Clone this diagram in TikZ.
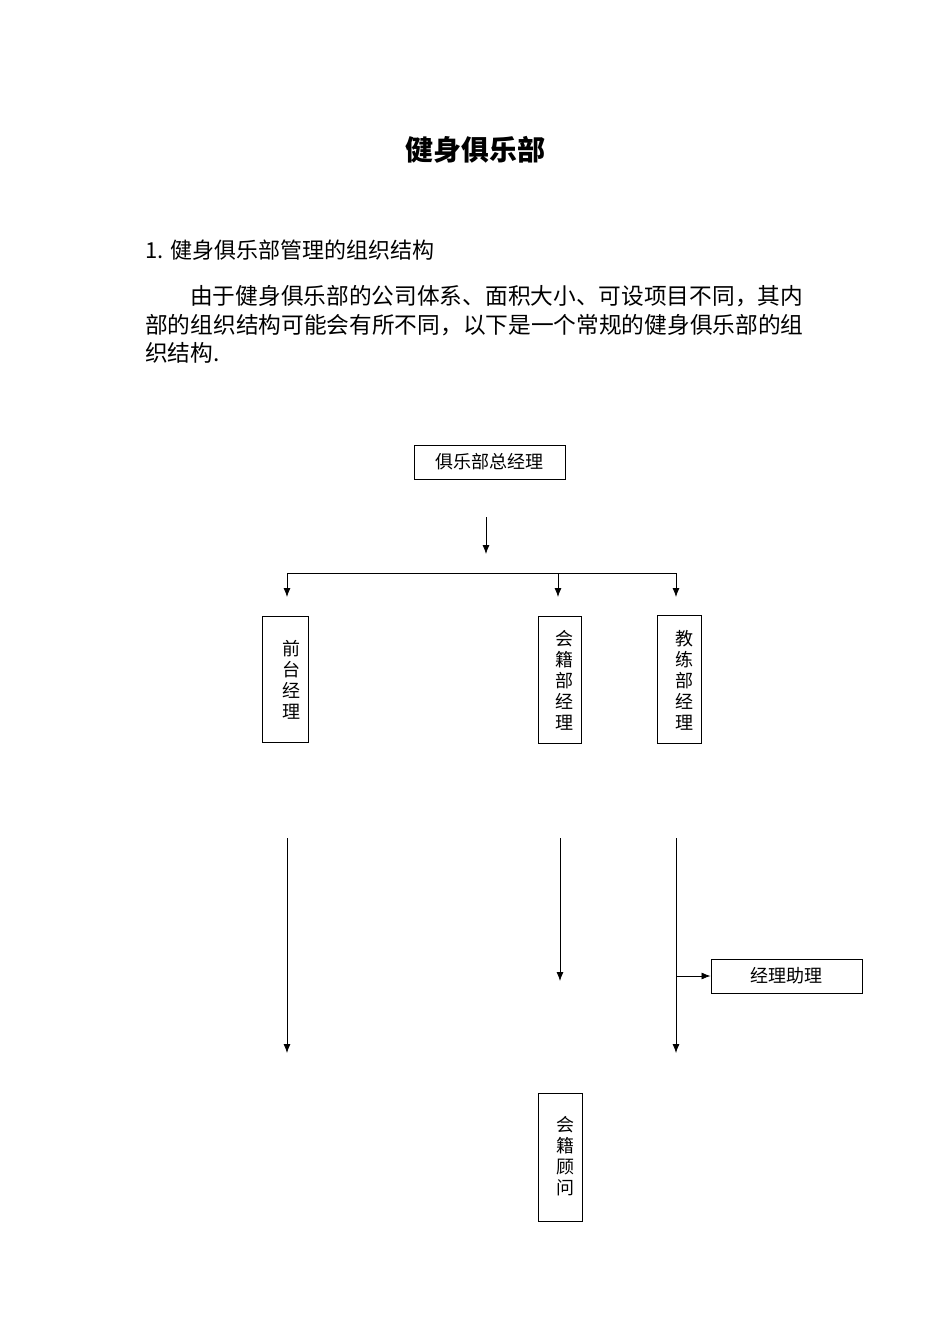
\documentclass[tikz,border=0pt]{standalone}
\usepackage{fontspec}
\setmainfont{Liberation Serif}
\newfontfamily\cjk{Noto Sans CJK SC}
\usetikzlibrary{arrows.meta}
\begin{document}
\begin{tikzpicture}[x=1pt,y=-1pt,
  box/.style={draw,line width=0.9pt,inner sep=0pt},
  lbl/.style={font=\cjk\fontsize{18}{21}\selectfont,align=center,inner sep=0pt},
  body/.style={anchor=west,font=\cjk\fontsize{22.7}{26}\selectfont,inner sep=0pt},
  ar/.style={line width=0.8pt,-{Latex[length=9pt,width=7pt]}},
  ln/.style={line width=0.8pt}]
\useasboundingbox (0,0) rectangle (950,1344);
\node[font=\cjk\bfseries\fontsize{28}{32}\selectfont] (title) at (475,150) {健身俱乐部};
\node[anchor=west,font=\cjk\fontsize{22}{26}\selectfont,inner sep=0pt] (h1) at (145,250) {1. 健身俱乐部管理的组织结构};
\node[body] (p1) at (190,296) {由于健身俱乐部的公司体系、面积大小、可设项目不同，其内};
\node[body] (p2) at (145,325) {部的组织结构可能会有所不同，以下是一个常规的健身俱乐部的组};
\node[body] (p3) at (145,353) {织结构.};
% boxes
\node[box,minimum width=151pt,minimum height=34pt] (gm) at (489.5,462) {};
\node[lbl] at (gm) {俱乐部总经理};
\node[box,minimum width=46pt,minimum height=126pt] (qt) at (285,679) {};
\node[lbl,anchor=north] at (291,640) {前\\台\\经\\理};
\node[box,minimum width=43pt,minimum height=127pt] (hj) at (559.5,679.5) {};
\node[lbl,anchor=north] at (564,630) {会\\籍\\部\\经\\理};
\node[box,minimum width=44pt,minimum height=128pt] (jl) at (679,679) {};
\node[lbl,anchor=north] at (684,630) {教\\练\\部\\经\\理};
\node[box,minimum width=151pt,minimum height=34pt] (zl) at (786.5,976) {};
\node[lbl] at (zl) {经理助理};
\node[box,minimum width=44pt,minimum height=128pt] (gw) at (560,1157) {};
\node[lbl,anchor=north] at (565,1116) {会\\籍\\顾\\问};
% connectors
\coordinate (a0) at (486,517); \coordinate (a1) at (486,554);
\draw[ar] (a0) -- (a1);
\coordinate (hl) at (287,573); \coordinate (hr) at (676,573);
\draw[ln] (hl) -- (hr);
\draw[ar] (hl) -- (287,597);
\draw[ar] (558,573) -- (558,597);
\draw[ar] (hr) -- (676,597);
\draw[ar] (287,838) -- (287,1053);
\draw[ar] (560,838) -- (560,981);
\draw[ar] (676,838) -- (676,1053);
\draw[ar] (676,976) -- (zl.west);
\end{tikzpicture}
\end{document}
